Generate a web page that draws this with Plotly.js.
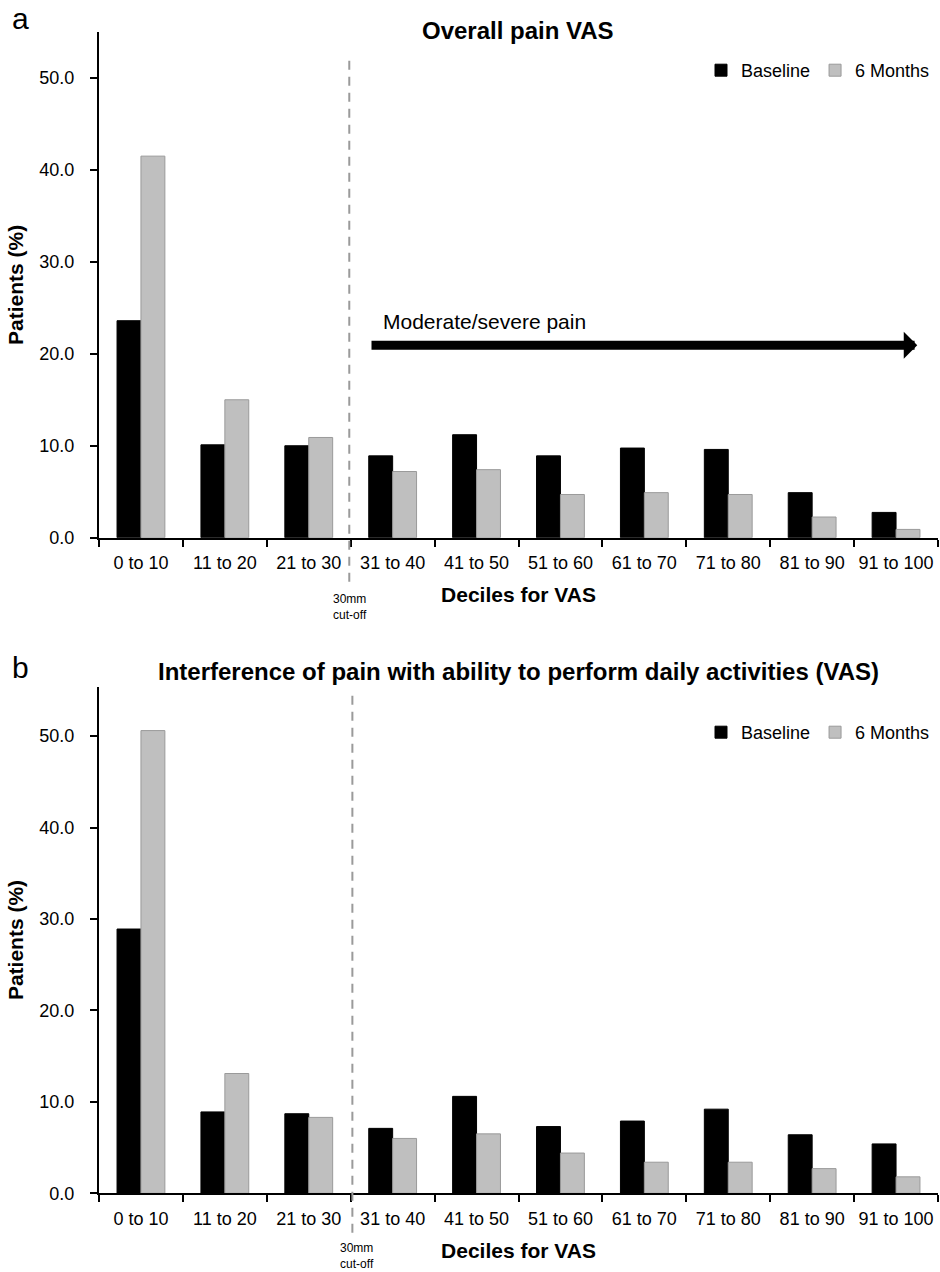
<!DOCTYPE html>
<html>
<head>
<meta charset="utf-8">
<script src="https://cdn.plot.ly/plotly-3.0.1.min.js"></script>
<style>html,body{margin:0;padding:0;background:#fff;}#chart{width:940px;height:1272px;}</style>
</head>
<body>
<div id="chart"></div>
<script>
// ---- data ----
const categories = ['0 to 10','11 to 20','21 to 30','31 to 40','41 to 50','51 to 60','61 to 70','71 to 80','81 to 90','91 to 100'];
const seriesNames = ['Baseline','6 Months'];
const overallBaseline  = [23.6, 10.1, 10.0, 8.9, 11.2, 8.9, 9.75, 9.6, 4.9, 2.75];
const overallSixMonths = [41.5, 15.0, 10.9, 7.2, 7.4, 4.7, 4.9, 4.7, 2.25, 0.9];
const interfBaseline   = [28.9, 8.9, 8.7, 7.1, 10.6, 7.3, 7.9, 9.2, 6.4, 5.4];
const interfSixMonths  = [50.6, 13.1, 8.3, 6.0, 6.5, 4.4, 3.4, 3.4, 2.7, 1.8];
const yTickVals = [0, 10, 20, 30, 40, 50];
const titleA = 'Overall pain VAS';
const titleB = 'Interference of pain with ability to perform daily activities (VAS)';
const xTitle = 'Deciles for VAS';
const yTitle = 'Patients (%)';
const arrowLabel = 'Moderate/severe pain';
const cutoffLabel = '30mm<br>cut-off';

// ---- styling ----
const W = 940, H = 1272;
const FONT = 'Liberation Sans, Arial, Helvetica, sans-serif';
const blackBar = {color: '#000000', line: {color: '#000000', width: 1}};
const grayBar  = {color: '#bfbfbf', line: {color: '#9a9a9a', width: 1}};
const px = x => x / W;
const py = y => 1 - y / H;

const traces = [
  {type: 'bar', name: seriesNames[0], x: categories, y: overallBaseline, marker: blackBar, xaxis: 'x', yaxis: 'y', legend: 'legend'},
  {type: 'bar', name: seriesNames[1], x: categories, y: overallSixMonths, marker: grayBar, xaxis: 'x', yaxis: 'y', legend: 'legend'},
  {type: 'bar', name: seriesNames[0], x: categories, y: interfBaseline, marker: blackBar, xaxis: 'x2', yaxis: 'y2', legend: 'legend2'},
  {type: 'bar', name: seriesNames[1], x: categories, y: interfSixMonths, marker: grayBar, xaxis: 'x2', yaxis: 'y2', legend: 'legend2'}
];
traces.forEach(t => { t.hoverinfo = 'skip'; });

function xAxis(anchor) {
  return {
    anchor: anchor, domain: [px(99), px(938)], type: 'category', range: [-0.5, 9.5],
    showline: true, linecolor: '#000', linewidth: 2, showgrid: false, zeroline: false,
    ticks: 'outside', tickson: 'boundaries', ticklen: 7, tickwidth: 2, tickcolor: '#000',
    tickangle: 0,
    tickfont: {family: FONT, size: 18, color: '#000'}, ticklabelstandoff: 8,
    title: {text: '<b>' + xTitle + '</b>', font: {family: FONT, size: 21, color: '#000'}, standoff: 15},
    automargin: false, fixedrange: true
  };
}
function yAxis(anchor, domain, maxV) {
  return {
    anchor: anchor, domain: domain, range: [0, maxV],
    tickvals: yTickVals, tickformat: '.1f',
    showline: true, linecolor: '#000', linewidth: 2, showgrid: false, zeroline: false,
    ticks: 'outside', ticklen: 7, tickwidth: 2, tickcolor: '#000',
    tickfont: {family: FONT, size: 18, color: '#000'}, ticklabelstandoff: 12,
    title: {text: '<b>' + yTitle + '</b>', font: {family: FONT, size: 21, color: '#000'}, standoff: 10},
    automargin: false, fixedrange: true
  };
}

const legendBase = {
  orientation: 'h', xanchor: 'left', yanchor: 'top', bgcolor: 'rgba(0,0,0,0)',
  font: {family: FONT, size: 18, color: '#000'}, traceorder: 'normal', itemclick: false, itemdoubleclick: false
};

const dash = {color: '#9a9a9a', width: 2, dash: '9px,7px'};

const layout = {
  width: W, height: H,
  margin: {l: 0, r: 0, t: 0, b: 0, pad: 0},
  paper_bgcolor: '#fff', plot_bgcolor: '#fff',
  font: {family: FONT, color: '#000'},
  barmode: 'group', bargap: 0.43, bargroupgap: 0,
  xaxis: xAxis('y'),
  yaxis: yAxis('x', [py(537.7), py(32)], 55),
  xaxis2: xAxis('y2'),
  yaxis2: yAxis('x2', [py(1193.3), py(686.7)], 55.4),
  legend: Object.assign({}, legendBase, {x: px(701), y: py(52)}),
  legend2: Object.assign({}, legendBase, {x: px(701), y: py(714)}),
  shapes: [
    {type: 'line', xref: 'x domain', yref: 'y domain', x0: 0.2983, x1: 0.2983, y0: -0.087, y1: 0.951, line: dash, layer: 'above'},
    {type: 'line', xref: 'x2 domain', yref: 'y2 domain', x0: 0.302, x1: 0.302, y0: -0.078, y1: 0.984, line: dash, layer: 'above'}
  ],
  annotations: [
    {xref: 'paper', yref: 'paper', x: px(20), y: py(18), text: 'a', showarrow: false, xanchor: 'center', yanchor: 'middle', font: {family: FONT, size: 30, color: '#000'}},
    {xref: 'paper', yref: 'paper', x: px(20), y: py(667), text: 'b', showarrow: false, xanchor: 'center', yanchor: 'middle', font: {family: FONT, size: 30, color: '#000'}},
    {xref: 'paper', yref: 'paper', x: px(518), y: py(30.5), text: '<b>' + titleA + '</b>', showarrow: false, xanchor: 'center', yanchor: 'middle', font: {family: FONT, size: 24, color: '#000'}},
    {xref: 'paper', yref: 'paper', x: px(518), y: py(671.5), text: '<b>' + titleB + '</b>', showarrow: false, xanchor: 'center', yanchor: 'middle', font: {family: FONT, size: 24, color: '#000'}},
    {xref: 'paper', yref: 'paper', x: px(381), y: py(321.5), text: arrowLabel, showarrow: false, xanchor: 'left', yanchor: 'middle', font: {family: FONT, size: 21, color: '#000'}},
    {xref: 'x', yref: 'y', x: 9.253, y: 20.93, axref: 'x', ayref: 'y', ax: 2.73, ay: 20.93, text: '', showarrow: true, arrowhead: 1, arrowsize: 0.5, arrowwidth: 9, arrowcolor: '#000', standoff: 0, startstandoff: 0},
    {xref: 'paper', yref: 'paper', x: px(350), y: py(607), text: cutoffLabel, showarrow: false, xanchor: 'center', yanchor: 'middle', align: 'center', font: {family: FONT, size: 12, color: '#000'}},
    {xref: 'paper', yref: 'paper', x: px(356.7), y: py(1255.5), text: cutoffLabel, showarrow: false, xanchor: 'center', yanchor: 'middle', align: 'center', font: {family: FONT, size: 12, color: '#000'}}
  ]
};

Plotly.newPlot('chart', traces, layout, {staticPlot: true, displayModeBar: false});
</script>
</body>
</html>
